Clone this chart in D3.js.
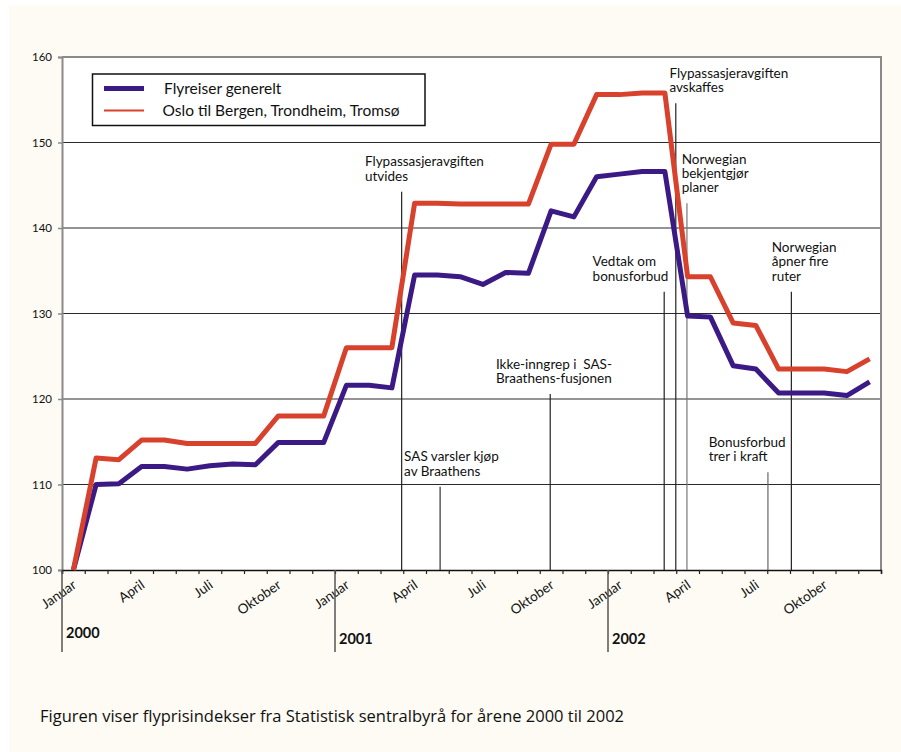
<!DOCTYPE html>
<html>
<head>
<meta charset="utf-8">
<script src="https://cdn.jsdelivr.net/npm/d3@7"></script>
<style>
  body { margin: 0; background: #fff; }
  svg { display: block; font-family: Lato, "Open Sans", sans-serif; }
</style>
</head>
<body>
<div id="chart"></div>
<script>
// Flyprisindekser 2000-2002, month index 0 = januar 2000
var years = [2000, 2001, 2002];
var monthLabels = ["Januar", "April", "Juli", "Oktober"];
var monthLabelIdx = [0, 3, 6, 9];
var yTicks = [100, 110, 120, 130, 140, 150, 160];

var seriesNames = ["Flyreiser generelt", "Oslo til Bergen, Trondheim, Tromsø"];

var generelt = [
  100.0, 110.0, 110.1, 112.1, 112.1, 111.8, 112.2, 112.4, 112.3, 114.9, 114.9, 114.9,
  121.6, 121.6, 121.3, 134.5, 134.5, 134.3, 133.4, 134.8, 134.7, 142.0, 141.3, 146.0,
  146.3, 146.6, 146.6, 129.7, 129.6, 123.9, 123.5, 120.7, 120.7, 120.7, 120.4, 122.0
];

var oslo = [
  100.0, 113.1, 112.9, 115.2, 115.2, 114.8, 114.8, 114.8, 114.8, 118.0, 118.0, 118.0,
  126.0, 126.0, 126.0, 142.9, 142.9, 142.8, 142.8, 142.8, 142.8, 149.8, 149.8, 155.6,
  155.6, 155.8, 155.8, 134.3, 134.3, 128.9, 128.6, 123.5, 123.5, 123.5, 123.2, 124.7
];

// events: position in months from januar 2000
var eventText = [
  ["Flypassasjeravgiften", "utvides"],
  ["SAS varsler kjøp", "av Braathens"],
  ["Ikke-inngrep i  SAS-", "Braathens-fusjonen"],
  ["Vedtak om", "bonusforbud"],
  ["Flypassasjeravgiften", "avskaffes"],
  ["Norwegian", "bekjentgjør", "planer"],
  ["Norwegian", "åpner fire", "ruter"],
  ["Bonusforbud", "trer i kraft"]
];
var eventMonth = [14.93, 16.62, 21.46, 26.47, 26.98, 27.47, 32.06, 31.03];

var caption = "Figuren viser flyprisindekser fra Statistisk sentralbyrå for årene 2000 til 2002";

(function () {
var W = 901, H = 752;
var margin = {top: 57, right: 20, bottom: 182, left: 62},
    width = 881 - margin.left,
    height = 570 - margin.top;

var svg = d3.select("#chart").append("svg")
    .attr("width", W)
    .attr("height", H);

svg.append("rect")
    .attr("x", 9).attr("y", 5)
    .attr("width", W - 9).attr("height", H - 5)
    .attr("fill", "#fdfbf4");

var g = svg.append("g")
    .attr("transform", "translate(" + margin.left + "," + margin.top + ")");

var x = d3.scaleLinear().domain([0, 36]).range([0, width]);
var y = d3.scaleLinear().domain([100, 160]).range([height, 0]);

g.append("rect")
    .attr("width", width).attr("height", height)
    .attr("fill", "#fff");

// grid
g.append("g").selectAll("line")
    .data(yTicks.slice(1, -1))
  .enter().append("line")
    .attr("x1", 0).attr("x2", width)
    .attr("y1", function(d) { return y(d); })
    .attr("y2", function(d) { return y(d); })
    .attr("stroke", "#2a2a2a")
    .attr("stroke-width", 1.2);

// frame top + right
g.append("path")
    .attr("d", "M0," + y(160) + "H" + width + "V" + height)
    .attr("fill", "none")
    .attr("stroke", "#8a8a8a")
    .attr("stroke-width", 2);

// y axis
var yAxis = d3.axisLeft(y).tickValues(yTicks).tickSize(4).tickPadding(6);
var ya = g.append("g").attr("class", "y axis").call(yAxis);
ya.select(".domain").attr("stroke", "#8a8a8a").attr("stroke-width", 2);
ya.selectAll(".tick line").attr("stroke", "#8a8a8a").attr("stroke-width", 1.5);
ya.selectAll("text")
    .style("font-family", "Lato, sans-serif")
    .style("font-size", "11.5px")
    .attr("fill", "#111");

// x axis: month boundaries
var xAxis = d3.axisBottom(x).tickValues(d3.range(0, 37)).tickSize(4).tickFormat("");
var xa = g.append("g").attr("class", "x axis")
    .attr("transform", "translate(0," + height + ")")
    .call(xAxis);
xa.select(".domain").attr("stroke", "#111").attr("stroke-width", 1.5);
xa.selectAll(".tick line").attr("stroke", "#222").attr("stroke-width", 1.2);

// month labels
var labels = [];
years.forEach(function(yr, i) {
  monthLabels.forEach(function(m, j) {
    labels.push({text: m, m: i * 12 + monthLabelIdx[j]});
  });
});
g.append("g").selectAll("text")
    .data(labels)
  .enter().append("text")
    .attr("transform", function(d) {
      return "translate(" + (x(d.m + 0.5) + 4) + "," + (height + 17) + ") rotate(-35)";
    })
    .attr("text-anchor", "end")
    .style("font-size", "13.5px")
    .attr("fill", "#111")
    .text(function(d) { return d.text; });

// year separators
var yg = g.append("g").selectAll("g")
    .data(years)
  .enter().append("g")
    .attr("transform", function(d, i) { return "translate(" + x(i * 12) + "," + height + ")"; });
yg.append("line")
    .attr("y1", 0).attr("y2", 82)
    .attr("stroke", "#555")
    .attr("stroke-width", 1.5);
yg.append("text")
    .attr("x", 4)
    .attr("y", function(d, i) { return i === 0 ? 68 : 74; })
    .style("font-size", "14.5px")
    .style("font-weight", "bold")
    .attr("fill", "#111")
    .text(function(d) { return d; });

// event lines + text
var evLayout = [
  {top: 144.25, dx: -36.7, col: "#222"},
  {top: 109.74, dx: -36, col: "#333"},
  {top: 120.58, dx: -54.3, col: "#222"},
  {top: 132.55, dx: -71.6, col: "#222"},
  {top: 154.58, dx: -6.4, col: "#222"},
  {top: 142.89, dx: -5.3, col: "#777"},
  {top: 132.55, dx: -19.6, col: "#222"},
  {top: 111.43, dx: -59.3, col: "#666"}
];
var lineH = 14.3;
var ev = g.append("g").selectAll("g")
    .data(eventText)
  .enter().append("g");
ev.append("line")
    .attr("x1", function(d, i) { return x(eventMonth[i]); })
    .attr("x2", function(d, i) { return x(eventMonth[i]); })
    .attr("y1", function(d, i) { return y(evLayout[i].top); })
    .attr("y2", height)
    .attr("stroke", function(d, i) { return evLayout[i].col; })
    .attr("stroke-width", 1.2);
ev.each(function(d, i) {
  var lx = x(eventMonth[i]) + evLayout[i].dx,
      base = y(evLayout[i].top) - 11 - (d.length - 1) * lineH;
  d3.select(this).selectAll("text")
      .data(d)
    .enter().append("text")
      .attr("x", lx)
      .attr("y", function(t, k) { return base + k * lineH; })
      .style("font-size", "13.5px")
      .style("white-space", "pre")
      .attr("fill", "#111")
      .text(function(t) { return t; });
});

// series lines
var line = d3.line()
    .x(function(d, i) { return x(i + 0.5); })
    .y(function(d) { return y(d); });

g.append("path")
    .datum(generelt)
    .attr("fill", "none")
    .attr("stroke", "#3c1a86")
    .attr("stroke-width", 5)
    .attr("stroke-linejoin", "round")
    .attr("d", line);

g.append("path")
    .datum(oslo)
    .attr("fill", "none")
    .attr("stroke", "#d8412c")
    .attr("stroke-width", 5)
    .attr("stroke-linejoin", "round")
    .attr("d", line);

// legend
var lg = svg.append("g").attr("transform", "translate(92.5,74)");
lg.append("rect")
    .attr("width", 332.5).attr("height", 51.5)
    .attr("fill", "#fff")
    .attr("stroke", "#111")
    .attr("stroke-width", 1.5);
var legendItems = [
  {name: seriesNames[0], col: "#3c1a86", w: 5, ly: 14.5, tx: 71.5, ty: 19.5},
  {name: seriesNames[1], col: "#d8412c", w: 2, ly: 36.5, tx: 70, ty: 41.5}
];
lg.selectAll("line")
    .data(legendItems)
  .enter().append("line")
    .attr("x1", 11.5).attr("x2", 51.5)
    .attr("y1", function(d) { return d.ly; })
    .attr("y2", function(d) { return d.ly; })
    .attr("stroke", function(d) { return d.col; })
    .attr("stroke-width", function(d) { return d.w; });
lg.selectAll("text")
    .data(legendItems)
  .enter().append("text")
    .attr("x", function(d) { return d.tx; })
    .attr("y", function(d) { return d.ty; })
    .style("font-size", "15.5px")
    .attr("fill", "#111")
    .text(function(d) { return d.name; });

// caption
svg.append("text")
    .attr("x", 40)
    .attr("y", 722)
    .style("font-family", "'Open Sans', sans-serif")
    .style("font-size", "16.5px")
    .attr("fill", "#111")
    .text(caption);
})();
</script>
</body>
</html>
